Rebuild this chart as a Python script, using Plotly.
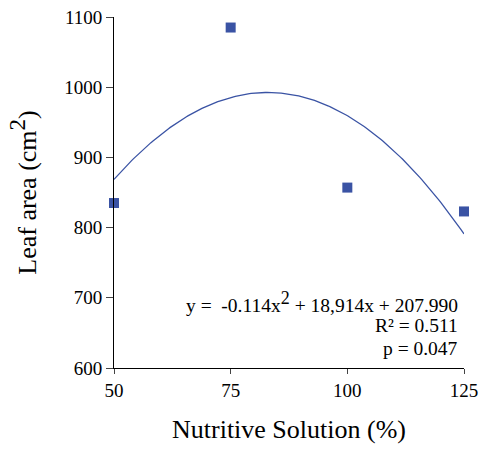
import numpy as np
import plotly.graph_objects as go

solution = [50, 75, 100, 125]
leaf_area = [835, 1085, 857, 823]
coef_a, coef_b, coef_c = -0.114, 18.914, 207.990
x_ticks = [50, 75, 100, 125]
y_ticks = [600, 700, 800, 900, 1000, 1100]

xs = np.linspace(50, 125, 200)
ys = coef_a * xs**2 + coef_b * xs + coef_c

blue = "#3A53A4"
font = "Liberation Serif"

fig = go.Figure()
fig.add_trace(go.Scatter(x=xs, y=ys, mode="lines", line=dict(color=blue, width=1.3),
                         hoverinfo="skip", showlegend=False))
fig.add_trace(go.Scatter(x=solution, y=leaf_area, mode="markers",
                         marker=dict(symbol="square", size=10, color=blue),
                         cliponaxis=False, showlegend=False))

fig.update_layout(
    width=481, height=449,
    margin=dict(l=114, r=17, t=17, b=81, autoexpand=False),
    paper_bgcolor="white", plot_bgcolor="white",
    font=dict(family=font, color="black", size=19),
    xaxis=dict(range=[50, 125], tickvals=x_ticks, ticks="outside", ticklen=5,
               showline=True, linecolor="black", linewidth=1, showgrid=False,
               zeroline=False, tickfont=dict(family=font, size=19), automargin=False,
               title=dict(text="Nutritive Solution (%)", font=dict(family=font, size=26), standoff=20)),
    yaxis=dict(range=[600, 1100], tickvals=y_ticks, ticks="outside", ticklen=7,
               showline=True, linecolor="black", linewidth=1, showgrid=False,
               zeroline=False, tickfont=dict(family=font, size=19), automargin=False,
               title=dict(text="Leaf area (cm<sup><span style='font-size:23px'>2</span></sup>)",
                          font=dict(family=font, size=26), standoff=20)),
)

ann_font = dict(family=font, size=19.5)
fig.add_annotation(xref="paper", yref="paper", x=0.989, y=0.188, xanchor="right", yanchor="middle",
                   text="y =  -0.114x<sup><span style='font-size:18px'>2</span></sup> + 18,914x + 207.990",
                   showarrow=False, font=ann_font, align="right")
fig.add_annotation(xref="paper", yref="paper", x=0.989, y=0.122, xanchor="right", yanchor="middle",
                   text="R² = 0.511", showarrow=False, font=ann_font, align="right")
fig.add_annotation(xref="paper", yref="paper", x=0.989, y=0.056, xanchor="right", yanchor="middle",
                   text="p = 0.047", showarrow=False, font=ann_font, align="right")

fig.write_html("out.html", config={"displayModeBar": False},
               post_script="document.body.style.margin='0';document.body.style.padding='0';")
